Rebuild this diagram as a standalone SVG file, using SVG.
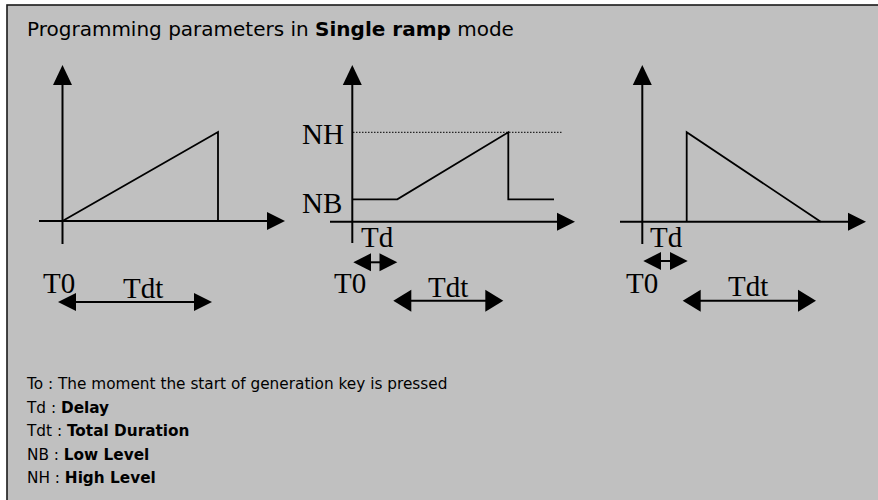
<svg xmlns="http://www.w3.org/2000/svg" width="878" height="500" viewBox="0 0 878 500">
<style>
.bg{fill:#c0c0c0;stroke:#1a1a1a;stroke-width:1.6}
.ax{stroke:#000;stroke-width:2;fill:none}
.sig{stroke:#000;stroke-width:1.8;fill:none;stroke-linejoin:miter}
.dot{stroke:#000;stroke-width:1;stroke-dasharray:1.5 1.5;fill:none}
.hd{fill:#000}
.lbl{font-family:"Liberation Serif","Times New Roman",serif;font-size:29px;fill:#000}
.txt{font-family:"DejaVu Sans",Verdana,sans-serif;font-size:15.3px;fill:#000}
.ttl{font-family:"DejaVu Sans",Verdana,sans-serif;font-size:20px;fill:#000}
.b{font-weight:bold}
</style>
<rect class="bg" x="7" y="5" width="900" height="600"/>
<text id="title" class="ttl" x="27" y="36">Programming parameters in <tspan class="b">Single ramp</tspan> mode</text>

<g id="panel1">
  <line class="ax" x1="62.5" y1="244" x2="62.5" y2="84"/>
  <polygon class="hd" points="62.5,65 53,85 72,85"/>
  <line class="ax" x1="39" y1="221" x2="268" y2="221"/>
  <polygon class="hd" points="285,221 267,212 267,230"/>
  <polyline class="sig" points="62.5,221 218,132 218,221"/>
  <text class="lbl" x="43" y="293">T0</text>
  <text class="lbl" x="123" y="298">Tdt</text>
  <line class="ax" x1="75" y1="302" x2="195" y2="302"/>
  <polygon class="hd" points="58,302 76,293 76,311"/>
  <polygon class="hd" points="212,302 194,293 194,311"/>
</g>

<g id="panel2">
  <line class="ax" x1="352.3" y1="243" x2="352.3" y2="84"/>
  <polygon class="hd" points="352.3,65 342.8,85 361.8,85"/>
  <line class="ax" x1="330" y1="221.7" x2="558" y2="221.7"/>
  <polygon class="hd" points="575,221.7 557,212.7 557,230.7"/>
  <line class="dot" x1="353" y1="132.3" x2="562" y2="132.3"/>
  <polyline class="sig" points="352.3,199.3 397.3,199.3 508.3,132.3 508.3,199.3 554,199.3"/>
  <text class="lbl" x="302" y="144.3">NH</text>
  <text class="lbl" x="302" y="213">NB</text>
  <text class="lbl" x="361" y="246.7">Td</text>
  <line class="ax" x1="370" y1="262.3" x2="381" y2="262.3"/>
  <polygon class="hd" points="353.3,262.3 371,253.3 371,271.3"/>
  <polygon class="hd" points="397.3,262.3 379.5,253.3 379.5,271.3"/>
  <text class="lbl" x="334" y="293">T0</text>
  <text class="lbl" x="428" y="297">Tdt</text>
  <line class="ax" x1="410" y1="300.7" x2="487" y2="300.7"/>
  <polygon class="hd" points="393.3,300.7 411.3,289.7 411.3,311.7"/>
  <polygon class="hd" points="503.3,300.7 485.3,289.7 485.3,311.7"/>
</g>

<g id="panel3">
  <line class="ax" x1="642.3" y1="244" x2="642.3" y2="84"/>
  <polygon class="hd" points="642.3,65 632.8,85 651.8,85"/>
  <line class="ax" x1="620" y1="221.7" x2="849" y2="221.7"/>
  <polygon class="hd" points="866,221.7 848,212.7 848,230.7"/>
  <polyline class="sig" points="686.7,221.7 686.7,132.3 820.7,221.7"/>
  <text class="lbl" x="650" y="246.7">Td</text>
  <line class="ax" x1="660" y1="261" x2="671" y2="261"/>
  <polygon class="hd" points="643.3,261 661,252 661,270"/>
  <polygon class="hd" points="687.7,261 670,252 670,270"/>
  <text class="lbl" x="626" y="293">T0</text>
  <text class="lbl" x="728" y="296">Tdt</text>
  <line class="ax" x1="699" y1="300.7" x2="800" y2="300.7"/>
  <polygon class="hd" points="682.7,300.7 700.7,289.7 700.7,311.7"/>
  <polygon class="hd" points="816,300.7 798,289.7 798,311.7"/>
</g>

<g id="legend" class="txt">
  <text x="27" y="389">To : The moment the start of generation key is pressed</text>
  <text x="27" y="412.5">Td : <tspan class="b">Delay</tspan></text>
  <text x="27" y="436">Tdt : <tspan class="b">Total Duration</tspan></text>
  <text x="27" y="459.5">NB : <tspan class="b">Low Level</tspan></text>
  <text x="27" y="483">NH : <tspan class="b">High Level</tspan></text>
</g>
</svg>
